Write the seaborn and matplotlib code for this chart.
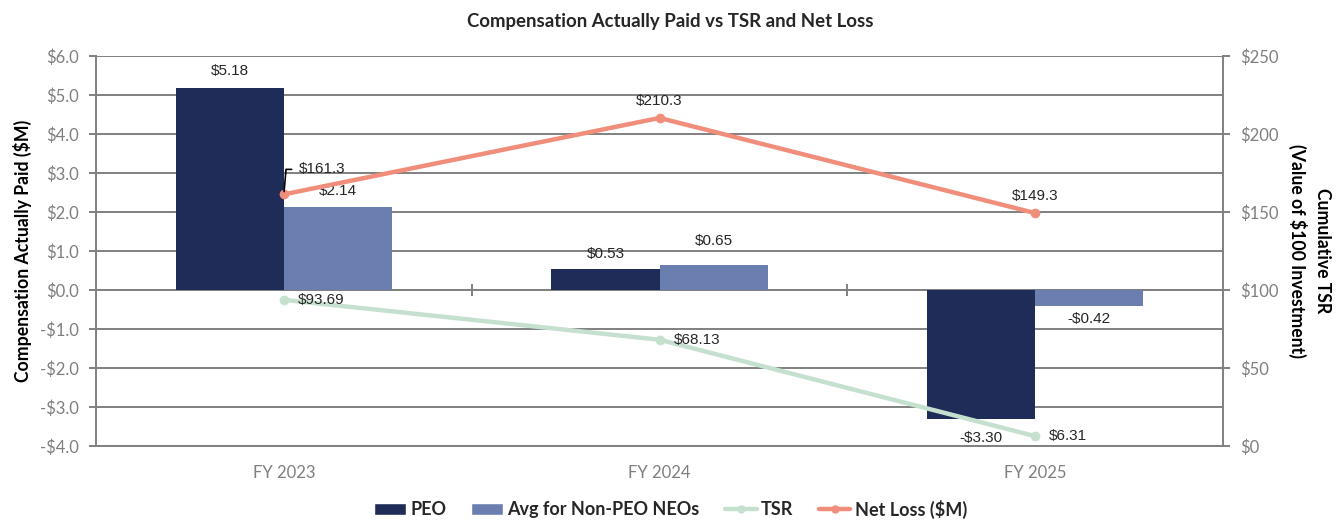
import numpy as np
import pandas as pd
import matplotlib
matplotlib.use("Agg")
import matplotlib.pyplot as plt
from matplotlib.patches import Patch
from matplotlib.lines import Line2D
import seaborn as sns

# data
years = ["FY 2023", "FY 2024", "FY 2025"]
peo_cap = [5.18, 0.53, -3.30]
neo_cap = [2.14, 0.65, -0.42]
tsr = [93.69, 68.13, 6.31]
net_loss = [161.3, 210.3, 149.3]

bar_groups = ["PEO", "Avg for Non-PEO NEOs"]
left_ticks = np.arange(-4, 7, 1)
right_ticks = np.arange(0, 251, 50)

# colours
c_peo = "#1f2c57"
c_neo = "#6a7fb0"
c_tsr = "#c6e0d0"
c_loss = "#f08e7b"
c_grid = "#808080"
c_tick = "#7f7f7f"

sns.set_theme(style="white")
plt.rcParams["font.family"] = ["Lato", "DejaVu Sans"]
label_font = ["Liberation Sans", "DejaVu Sans"]

df = pd.DataFrame({
    "year": years * 2,
    "group": [bar_groups[0]] * len(years) + [bar_groups[1]] * len(years),
    "value": peo_cap + neo_cap,
})

fig = plt.figure(figsize=(13.41, 5.30), dpi=100)
ax = fig.add_axes([96 / 1341, 1 - 446 / 530, (1223 - 96) / 1341, 390 / 530])

sns.barplot(data=df, x="year", y="value", hue="group", hue_order=bar_groups,
            palette=[c_peo, c_neo], width=0.575, saturation=1, ax=ax,
            legend=False, linewidth=0, zorder=3)

ax.set_ylim(-4, 6)
ax.set_yticks(left_ticks)
ax.set_yticklabels([f"-${abs(v):.1f}" if v < 0 else f"${v:.1f}" for v in left_ticks])
ax.yaxis.grid(True, color=c_grid, linewidth=1.4, zorder=0)
ax.set_axisbelow(True)
ax.set_xlim(-0.5, len(years) - 0.5)
ax.set_xlabel("")
ax.set_ylabel("Compensation Actually Paid ($M)", fontsize=12.7, fontweight="bold",
              color="black", labelpad=6)
for s in ["left", "right", "bottom"]:
    ax.spines[s].set_color(c_grid)
    ax.spines[s].set_linewidth(1.4)
ax.spines["top"].set_visible(False)
ax.tick_params(axis="y", colors=c_grid, labelcolor=c_tick, labelsize=12,
               length=5, width=1.4, pad=7, left=True, direction="out")
ax.tick_params(axis="x", labelcolor=c_tick, labelsize=12, length=0, pad=14)

# zero line with small category separators
ax.axhline(0, color=c_grid, linewidth=1.4, zorder=1)
ax.vlines(np.arange(len(years) - 1) + 0.5, -0.15, 0.15, color=c_grid,
          linewidth=1.4, zorder=1)

# bar labels (label distance differs a little per bar, as in the original)
pads = [[7, 6, 9], [6, 12, 4]]
for cont, vals, pad in zip(ax.containers, [peo_cap, neo_cap], pads):
    for bar, v, p in zip(cont, vals, pad):
        x = bar.get_x() + bar.get_width() / 2
        top = bar.get_y() + bar.get_height()
        lab = f"-${abs(v):.2f}" if v < 0 else f"${v:.2f}"
        ax.annotate(lab, (x, top), xytext=(0, p if v >= 0 else -p),
                    textcoords="offset points", ha="center",
                    va="bottom" if v >= 0 else "top", fontsize=11,
                    family=label_font)

# lines on the right axis
ax2 = ax.twinx()
xpos = np.arange(len(years))
sns.lineplot(x=xpos, y=tsr, ax=ax2, color=c_tsr, linewidth=3.2, marker="o",
             markersize=7, markeredgewidth=0)
sns.lineplot(x=xpos, y=net_loss, ax=ax2, color=c_loss, linewidth=3.2, marker="o",
             markersize=7, markeredgewidth=0)
ax2.set_ylim(0, 250)
ax2.set_yticks(right_ticks)
ax2.set_yticklabels([f"${v}" for v in right_ticks])
ax2.grid(False)
for s in ["left", "right", "bottom", "top"]:
    ax2.spines[s].set_visible(False)
ax2.tick_params(axis="y", colors=c_grid, labelcolor=c_tick, labelsize=12,
                length=5, width=1.4, pad=7, right=True, direction="out")
ax2.set_ylabel("Cumulative TSR\n(Value of $100 Investment)", fontsize=12.7,
               fontweight="bold", color="black", rotation=270, labelpad=38,
               linespacing=1.45)

for i, v in enumerate(tsr):
    ax2.annotate(f"${v:.2f}", (xpos[i], v), xytext=(10, 0), textcoords="offset points",
                 ha="left", va="center", fontsize=11, family=label_font)
for i, v in enumerate(net_loss):
    if i == 0:
        ax2.annotate(f"${v:.1f}", (xpos[i], v), xytext=(11, 18),
                     textcoords="offset points", ha="left", va="center",
                     fontsize=11, family=label_font,
                     arrowprops=dict(arrowstyle="-", color="black", lw=1.2,
                                     connectionstyle="angle,angleA=0,angleB=85,rad=0",
                                     shrinkA=3, shrinkB=2))
    else:
        ax2.annotate(f"${v:.1f}", (xpos[i], v), xytext=(0, 7), textcoords="offset points",
                     ha="center", va="bottom", fontsize=11, family=label_font)

fig.text(0.5, 1 - 21 / 530, "Compensation Actually Paid vs TSR and Net Loss",
         ha="center", va="center", fontsize=13.4, fontweight="bold")

handles = [
    Patch(facecolor=c_peo, label=bar_groups[0]),
    Patch(facecolor=c_neo, label=bar_groups[1]),
    Line2D([0], [0], color=c_tsr, lw=3.2, marker="o", ms=6, mew=0, label="TSR"),
    Line2D([0], [0], color=c_loss, lw=3.2, marker="o", ms=6, mew=0, label="Net Loss ($M)"),
]
leg = fig.legend(handles=handles, loc="center", bbox_to_anchor=(0.5, 1 - 509 / 530),
                 ncol=4, frameon=False, fontsize=13, handlelength=1.75,
                 columnspacing=1.4, handletextpad=0.25)
for t in leg.get_texts():
    t.set_fontweight("bold")

fig.savefig("out.png", dpi=100)
